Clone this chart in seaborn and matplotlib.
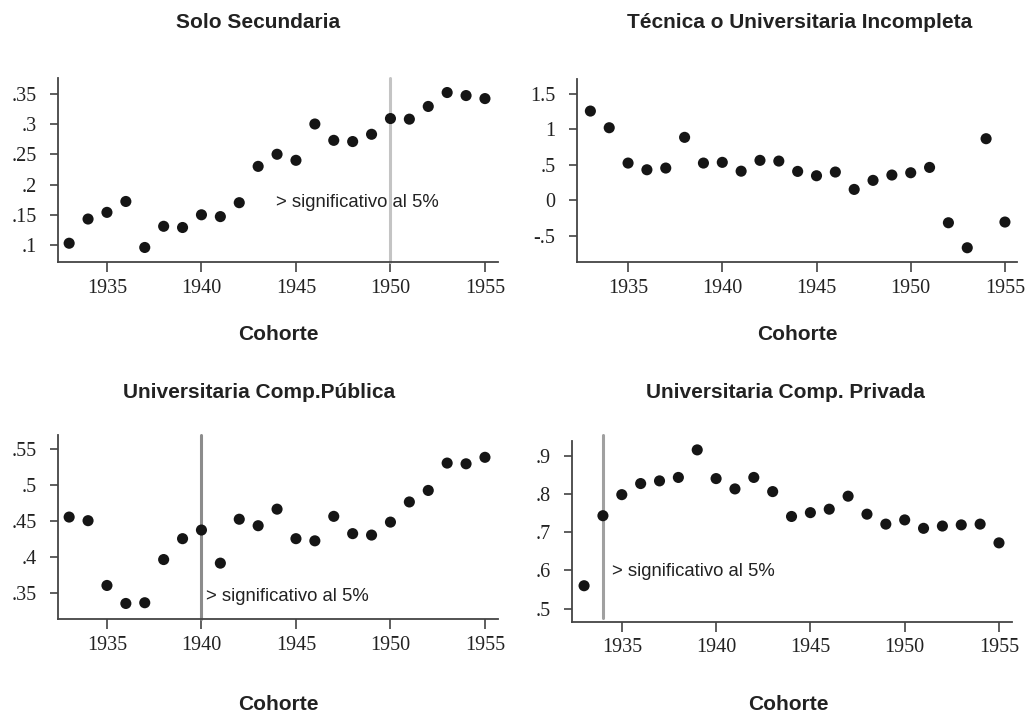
import matplotlib
matplotlib.use("Agg")
import matplotlib.pyplot as plt
import seaborn as sns
import pandas as pd

cohortes = list(range(1933, 1956))

solo_secundaria = [.103, .143, .154, .172, .096, .131, .129, .150, .147, .170, .230, .250,
                   .240, .300, .273, .271, .283, .309, .308, .329, .352, .347, .342]
tecnica_incompleta = [1.254, 1.02, .524, .43, .454, .885, .524, .534, .41, .562, .552, .407,
                      .346, .398, .154, .281, .356, .388, .463, -.314, -.665, .866, -.304]
univ_publica = [.456, .451, .361, .336, .337, .397, .426, .438, .392, .453, .444, .467,
                .426, .423, .457, .433, .431, .449, .477, .493, .531, .530, .539]
univ_privada = [.560, .743, .798, .827, .834, .843, .915, .840, .813, .843, .806, .741,
                .751, .760, .794, .747, .721, .732, .710, .716, .719, .721, .672]

titulos = ["Solo Secundaria", "Técnica o Universitaria Incompleta",
           "Universitaria Comp.Pública", "Universitaria Comp. Privada"]
xlabel = "Cohorte"
xticks = [1935, 1940, 1945, 1950, 1955]
yticks_list = [[.1, .15, .2, .25, .3, .35],
               [-.5, 0, .5, 1, 1.5],
               [.35, .4, .45, .5, .55],
               [.5, .6, .7, .8, .9]]
ytick_labels_list = [[".1", ".15", ".2", ".25", ".3", ".35"],
                     ["-.5", "0", ".5", "1", "1.5"],
                     [".35", ".4", ".45", ".5", ".55"],
                     [".5", ".6", ".7", ".8", ".9"]]
sig_years = [1950, None, 1940, 1934]
nota = "> significativo al 5%"

sns.set_style("ticks")
plt.rcParams["font.family"] = ["Liberation Sans", "DejaVu Sans"]

fig = plt.figure(figsize=(10.28, 7.14), dpi=100)

W, H = 1028, 714
boxes = [(58, 498, 78, 262), (577, 1017, 79.3, 262),
         (58, 498, 435, 619.3), (572, 1012, 440.7, 621.7)]
xlims = [(1932.41, 1955.69), (1932.29, 1955.64), (1932.41, 1955.69), (1932.36, 1955.69)]
ylims = [(.072, .376), (-.865, 1.70), (.314, .570), (.466, .939)]
vcolors = ["#c4c4c4", None, "#8c8c8c", "#a0a0a0"]
vspans = [(0, 1), None, (0, 1), (0.02, 1.03)]
notes = [(1943.95, .17), None, (1940.25, .346), (1934.5, .597)]
title_pos = [(258, 22), (800, 22), (259, 392), (785, 392)]
xlabel_pos = [(278, 335), (797, 335), (278, 705), (788, 705)]

series = [solo_secundaria, tecnica_incompleta, univ_publica, univ_privada]

for i in range(4):
    l, r, t, b = boxes[i]
    ax = fig.add_axes([l / W, 1 - b / H, (r - l) / W, (b - t) / H])
    df = pd.DataFrame({"cohorte": cohortes, "valor": series[i]})
    if sig_years[i] is not None:
        ax.axvline(sig_years[i], ymin=vspans[i][0], ymax=vspans[i][1],
                   color=vcolors[i], lw=2.2, zorder=1, clip_on=False)
    sns.scatterplot(data=df, x="cohorte", y="valor", ax=ax, s=64,
                    color="#151515", edgecolor="none", zorder=3, legend=False)
    ax.set_xlim(*xlims[i])
    ax.set_ylim(*ylims[i])
    ax.set_xticks(xticks)
    ax.set_xticklabels([str(x) for x in xticks], family="Liberation Serif", fontsize=14.5,
                       color="#222222")
    ax.set_yticks(yticks_list[i])
    ax.set_yticklabels(ytick_labels_list[i], family="Liberation Serif", fontsize=14.5,
                       color="#222222")
    ax.set_xlabel("")
    ax.set_ylabel("")
    ax.tick_params(axis="x", length=7, width=1.1, pad=5, color="#333333")
    ax.tick_params(axis="y", length=6, width=1.1, pad=9.5, color="#333333")
    for s in ["top", "right"]:
        ax.spines[s].set_visible(False)
    for s in ["left", "bottom"]:
        ax.spines[s].set_color("#444444")
        ax.spines[s].set_linewidth(1.3)
    if notes[i] is not None:
        ax.text(notes[i][0], notes[i][1], nota, fontsize=13.3, color="#222222",
                ha="left", va="center", zorder=4)
    tx, ty = title_pos[i]
    fig.text(tx / W, 1 - ty / H, titulos[i], ha="center", va="center",
             fontsize=15, fontweight="bold", color="#222222")
    lx, ly = xlabel_pos[i]
    fig.text(lx / W, 1 - ly / H, xlabel, ha="center", va="center",
             fontsize=15, fontweight="bold", color="#222222")

fig.savefig("out.png", dpi=100)
